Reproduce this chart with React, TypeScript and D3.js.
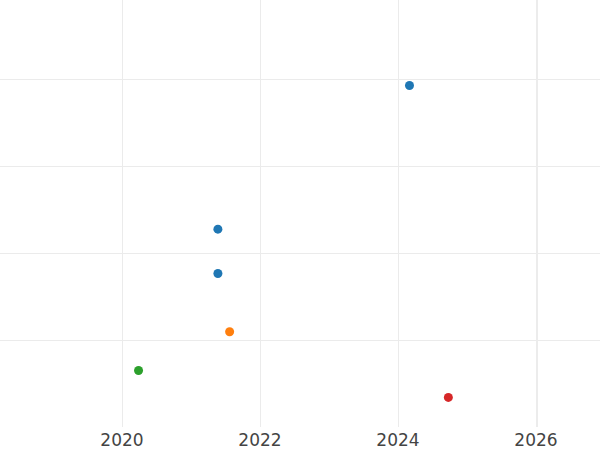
import React from "react";
import * as d3 from "d3";

const xTicks = [2020, 2022, 2024, 2026];
const yGrid = [1, 2, 3, 4];
const pointX = [2024.167, 2021.39, 2021.39, 2021.56, 2020.24, 2024.73];
const pointY = [3.925, 2.274, 1.764, 1.095, 0.65, 0.34];
const pointColor = ["#1f77b4", "#1f77b4", "#1f77b4", "#ff7f0e", "#2ca02c", "#d62728"];

const W = 600;
const H = 450;
const plotBottom = 427;

export default function App() {
  const x = d3.scaleLinear().domain([2018.232, 2026.928]).range([0, W]);
  const y = d3.scaleLinear().domain([0, 4.908]).range([plotBottom, 0]);
  return (
    <div style={{ position: "fixed", left: 0, top: 0 }}>
      <svg width={W} height={H} style={{ display: "block", background: "#fff" }}>
        {yGrid.map((v) => (
          <line key={"h" + v} x1={0} x2={W} y1={Math.round(y(v)) + 0.5} y2={Math.round(y(v)) + 0.5} stroke="#ebebeb" strokeWidth={1} />
        ))}
        {xTicks.map((t, i) => {
          const last = i === xTicks.length - 1;
          const xv = Math.round(x(t)) + (last ? 1 : 0.5);
          return (
            <line
              key={"v" + t}
              x1={xv}
              x2={xv}
              y1={0}
              y2={plotBottom}
              stroke={last ? "#ececec" : "#ebebeb"}
              strokeWidth={last ? 2 : 1}
            />
          );
        })}
        {pointX.map((px, i) => (
          <circle key={"p" + i} cx={x(px)} cy={y(pointY[i])} r={4.5} fill={pointColor[i]} />
        ))}
        {xTicks.map((t) => (
          <text
            key={"t" + t}
            x={x(t)}
            y={446}
            textAnchor="middle"
            fontFamily="DejaVu Sans"
            fontSize={17}
            fill="#444"
          >
            {t}
          </text>
        ))}
      </svg>
    </div>
  );
}
